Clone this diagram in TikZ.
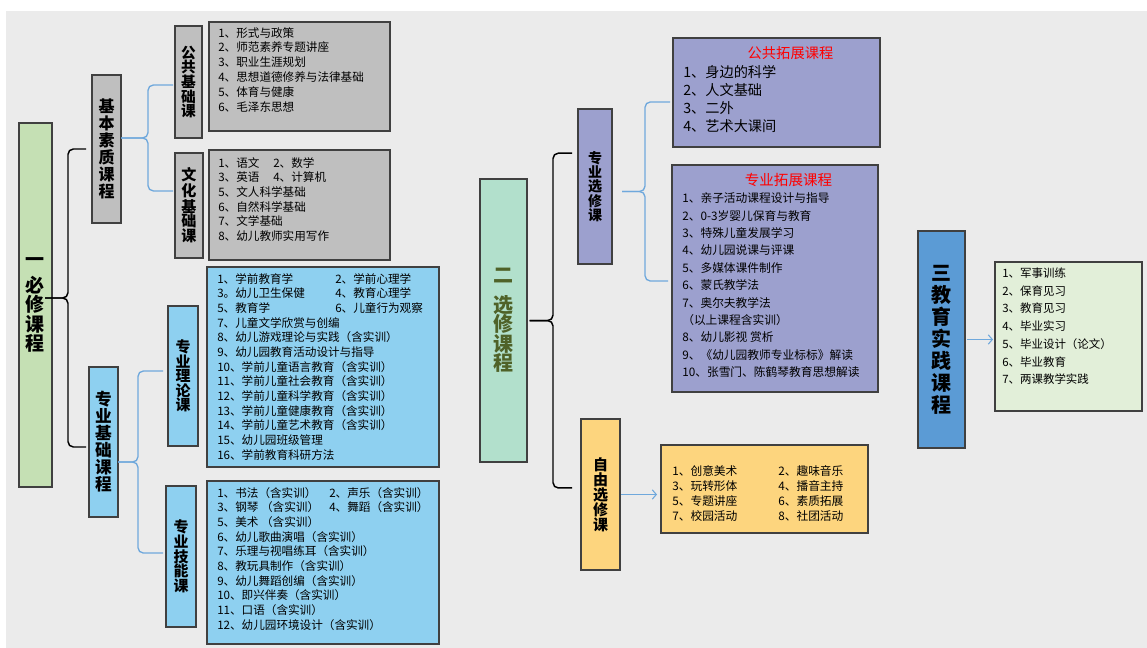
\documentclass[tikz,border=0pt]{standalone}
\usepackage{fontspec}
\setmainfont{Noto Sans CJK SC}
\usetikzlibrary{calc,arrows.meta}
\definecolor{bg}{RGB}{235,235,235}
\definecolor{boxline}{RGB}{64,64,64}
\definecolor{grayfill}{RGB}{191,191,191}
\definecolor{greenfill}{RGB}{197,224,180}
\definecolor{bluefill}{RGB}{142,208,240}
\definecolor{mintfill}{RGB}{178,224,204}
\definecolor{purplefill}{RGB}{156,160,206}
\definecolor{yellowfill}{RGB}{253,213,126}
\definecolor{sanfill}{RGB}{91,155,213}
\definecolor{lgreenfill}{RGB}{226,239,217}
\definecolor{bracecol}{RGB}{111,168,220}
\definecolor{ergreen}{RGB}{79,98,40}
\begin{document}
\begin{tikzpicture}[x=0.75pt,y=-0.75pt,
  sz/.style 2 args={minimum width=#1*0.75pt,minimum height=#2*0.75pt},
  box/.style={draw=boxline,line width=0.9pt,inner sep=0pt,outer sep=0pt,anchor=north west,align=center},
  lt/.style={anchor=north west,inner sep=0pt,align=left},
  bbrace/.style={draw=black,line width=1.1pt,rounded corners=4pt},
  lbrace/.style={draw=bracecol,line width=1pt,rounded corners=4pt},
  arr/.style={draw=bracecol,line width=0.8pt,-{Straight Barb[length=3pt,width=7pt]}}
]
\useasboundingbox (0,0) rectangle (1147,648);
\fill[white] (0,0) rectangle (1147,648);
\fill[bg] (6,11) rectangle (1147,648);

% ---------- part one ----------
\node[box,fill=greenfill,sz={33}{364},font=\bfseries\fontsize{14.25}{14.6}\selectfont] (yi) at (19,123) {一\\[4.9pt]必\\修\\课\\程};
\node[box,fill=grayfill,sz={29}{148},font=\bfseries\fontsize{12}{12.75}\selectfont] (jb) at (92,75) {基\\本\\素\\质\\课\\程};
\node[box,fill=grayfill,sz={27}{112},font=\bfseries\fontsize{11}{10.9}\selectfont] (gg) at (175,26) {公\\共\\基\\础\\课};
\node[box,fill=grayfill,sz={28}{105},font=\bfseries\fontsize{11.3}{10.6}\selectfont] (wh) at (175,153) {文\\化\\基\\础\\课};
\node[box,fill=grayfill,sz={181}{109}] (gl) at (209,22) {};
\node[box,fill=grayfill,sz={181}{110}] (wl) at (209,150) {};
\node[box,fill=bluefill,sz={29}{150},font=\bfseries\fontsize{12.5}{12.75}\selectfont] (zj) at (89,367) {专\\业\\基\\础\\课\\程};
\node[box,fill=bluefill,sz={30}{140},font=\bfseries\fontsize{11.2}{10.8}\selectfont] (zl) at (168,306) {专\\业\\理\\论\\课};
\node[box,fill=bluefill,sz={30}{141},font=\bfseries\fontsize{11.2}{11}\selectfont] (zn) at (166,486) {专\\业\\技\\能\\课};
\node[box,fill=bluefill,sz={232}{200}] (zll) at (207,267) {};
\node[box,fill=bluefill,sz={232}{163}] (znl) at (207,481) {};

\node[lt,font=\fontsize{8.7}{11.1}\selectfont] (glt) at (218,27) {1、形式与政策\\2、师范素养专题讲座\\3、职业生涯规划\\4、思想道德修养与法律基础\\5、体育与健康\\6、毛泽东思想};
\node[lt,font=\fontsize{8.7}{11}\selectfont] (wlt) at (218,157) {\makebox[41.25pt][l]{1、语文}2、数学\\\makebox[41.25pt][l]{3、英语}4、计算机\\5、文人科学基础\\6、自然科学基础\\7、文学基础\\8、幼儿教师实用写作};
\node[lt,font=\fontsize{8.7}{11}\selectfont] (zllt) at (217,273) {\makebox[88.5pt][l]{1、学前教育学}2、学前心理学\\\makebox[88.5pt][l]{3。幼儿卫生保健}4、教育心理学\\\makebox[88.5pt][l]{5、教育学}6、儿童行为观察\\7、儿童文学欣赏与创编\\8、幼儿游戏理论与实践（含实训）\\9、幼儿园教育活动设计与指导\\10、学前儿童语言教育（含实训）\\11、学前儿童社会教育（含实训）\\12、学前儿童科学教育（含实训）\\13、学前儿童健康教育（含实训）\\14、学前儿童艺术教育（含实训）\\15、幼儿园班级管理\\16、学前教育科研方法};
\node[lt,font=\fontsize{8.7}{11}\selectfont] (znlt) at (217,487) {\makebox[84pt][l]{1、书法（含实训）}2、声乐（含实训）\\\makebox[84pt][l]{3、钢琴 （含实训）}4、舞蹈（含实训）\\5、美术 （含实训）\\6、幼儿歌曲演唱（含实训）\\7、乐理与视唱练耳（含实训）\\8、教玩具制作（含实训）\\9、幼儿舞蹈创编（含实训）\\10、即兴伴奏（含实训）\\11、口语（含实训）\\12、幼儿园环境设计（含实训）};

% ---------- part two ----------
\node[box,fill=mintfill,sz={47}{283},text=ergreen,font=\bfseries\fontsize{15}{14.6}\selectfont] (er) at (480,179) {二\\[7.5pt]选\\修\\课\\程};
\node[box,fill=purplefill,sz={34}{155},font=\bfseries\fontsize{10.5}{10.7}\selectfont] (zx) at (578,109) {专\\业\\选\\修\\课};
\node[box,fill=yellowfill,sz={39}{151},font=\bfseries\fontsize{11.25}{11.25}\selectfont] (zy) at (581,419) {自\\由\\选\\修\\课};
\node[box,fill=purplefill,sz={207}{109}] (gt) at (673,38) {};
\node[box,fill=purplefill,sz={206}{227}] (zt) at (672,165) {};
\node[box,fill=yellowfill,sz={207}{88}] (zyl) at (661,445) {};

\node[text=red,inner sep=0pt,font=\fontsize{10.7}{12}\selectfont] (gtt) at (790.5,53) {公共拓展课程};
\node[lt,font=\fontsize{10.65}{13.5}\selectfont] (gtl) at (683,65) {1、身边的科学\\2、人文基础\\3、二外\\4、艺术大课间};
\node[text=red,inner sep=0pt,font=\fontsize{10.9}{12}\selectfont] (ztt) at (788.5,180) {专业拓展课程};
\node[lt,font=\fontsize{8.8}{13.05}\selectfont] (ztl) at (682,192.5) {1、亲子活动课程设计与指导\\2、0-3岁婴儿保育与教育\\3、特殊儿童发展学习\\4、幼儿园说课与评课\\5、多媒体课件制作\\6、蒙氏教学法\\7、奥尔夫教学法\\（以上课程含实训）\\8、幼儿影视 赏析\\9、《幼儿园教师专业标标》解读\\10、张雪门、陈鹤琴教育思想解读};
\node[lt,font=\fontsize{8.8}{11.25}\selectfont] (zylt) at (672,465.5) {\makebox[79.5pt][l]{1、创意美术}2、趣味音乐\\\makebox[79.5pt][l]{3、玩转形体}4、播音主持\\\makebox[79.5pt][l]{5、专题讲座}6、素质拓展\\\makebox[79.5pt][l]{7、校园活动}8、社团活动};

% ---------- part three ----------
\node[box,fill=sanfill,sz={47}{217},font=\bfseries\fontsize{15}{16.5}\selectfont] (san) at (918,231) {三\\教\\育\\实\\践\\课\\程};
\node[box,fill=lgreenfill,sz={147}{149}] (sl) at (995,262) {};
\node[lt,font=\fontsize{8.6}{13.3}\selectfont] (slt) at (1002,267.5) {1、军事训练\\2、保育见习\\3、教育见习\\4、毕业实习\\5、毕业设计（论文）\\6、毕业教育\\7、两课教学实践};

% ---------- braces ----------
% brace 1
\coordinate (b1t) at ([xshift=-4.5pt]jb.west);
\coordinate (b1b) at ([xshift=-2.25pt,yshift=-3.75pt]zj.west);
\coordinate (b1m) at ($(b1t)!0.5!(b1b)$);
\coordinate (b1v) at (68,0);
\coordinate (b1n) at (yi.east |- b1m);
\draw[bbrace] (b1t) -- (b1t -| b1v) -- (b1m -| b1v) -- ([xshift=-5.25pt]b1n);
\draw[bbrace] ([xshift=-5.25pt]b1n) -- (b1m -| b1v) -- (b1b -| b1v) -- (b1b);
% brace 2
\coordinate (b2t) at ([xshift=-1.5pt,yshift=-2.25pt]gg.west);
\coordinate (b2b) at ([xshift=-1.5pt,yshift=10.9pt]wh.west);
\coordinate (b2m) at ($(b2t)!0.5!(b2b)$);
\coordinate (b2v) at (148,0);
\coordinate (b2n) at (jb.east |- b2m);
\draw[lbrace] (b2t) -- (b2t -| b2v) -- (b2m -| b2v) -- (b2n);
\draw[lbrace] (b2n) -- (b2m -| b2v) -- (b2b -| b2v) -- (b2b);
% brace 3
\coordinate (b3t) at ([xshift=-3.75pt,yshift=3.75pt]zl.west);
\coordinate (b3b) at ([xshift=-2.25pt,yshift=2.6pt]zn.west);
\coordinate (b3m) at ($(b3t)!0.5!(b3b)$);
\coordinate (b3v) at (138,0);
\coordinate (b3n) at (zj.east |- b3m);
\draw[lbrace] (b3t) -- (b3t -| b3v) -- (b3m -| b3v) -- (b3n);
\draw[lbrace] (b3n) -- (b3m -| b3v) -- (b3b -| b3v) -- (b3b);
% brace 4
\coordinate (b4t) at ([xshift=-4.5pt,yshift=25pt]zx.west);
\coordinate (b4b) at ([xshift=-6.75pt,yshift=4.9pt]zy.west);
\coordinate (b4m) at ($(b4t)!0.5!(b4b)$);
\coordinate (b4v) at (553,0);
\coordinate (b4n) at (er.east |- b4m);
\draw[bbrace] (b4t) -- (b4t -| b4v) -- (b4m -| b4v) -- ([xshift=2pt]b4n);
\draw[bbrace] ([xshift=2pt]b4n) -- (b4m -| b4v) -- (b4b -| b4v) -- (b4b);
% brace 5
\coordinate (b5t) at ([xshift=-2.25pt,yshift=-7.1pt]gt.west);
\coordinate (b5b) at ([xshift=-3pt,yshift=-1.9pt]zt.west);
\coordinate (b5m) at ($(b5t)!0.5!(b5b)$);
\coordinate (b5v) at (645,0);
\coordinate (b5n) at (zx.east |- b5m);
\draw[lbrace] (b5t) -- (b5t -| b5v) -- (b5m -| b5v) -- ([xshift=7.5pt]b5n);
\draw[lbrace] ([xshift=7.5pt]b5n) -- (b5m -| b5v) -- (b5b -| b5v) -- (b5b);

% ---------- arrows ----------
\draw[arr,shorten <=1pt,shorten >=3pt] (zy.east) -- (zy.east -| zyl.west);
\draw[arr,shorten <=1.5pt,shorten >=1.5pt] (san.east) -- (san.east -| sl.west);
\end{tikzpicture}
\end{document}
